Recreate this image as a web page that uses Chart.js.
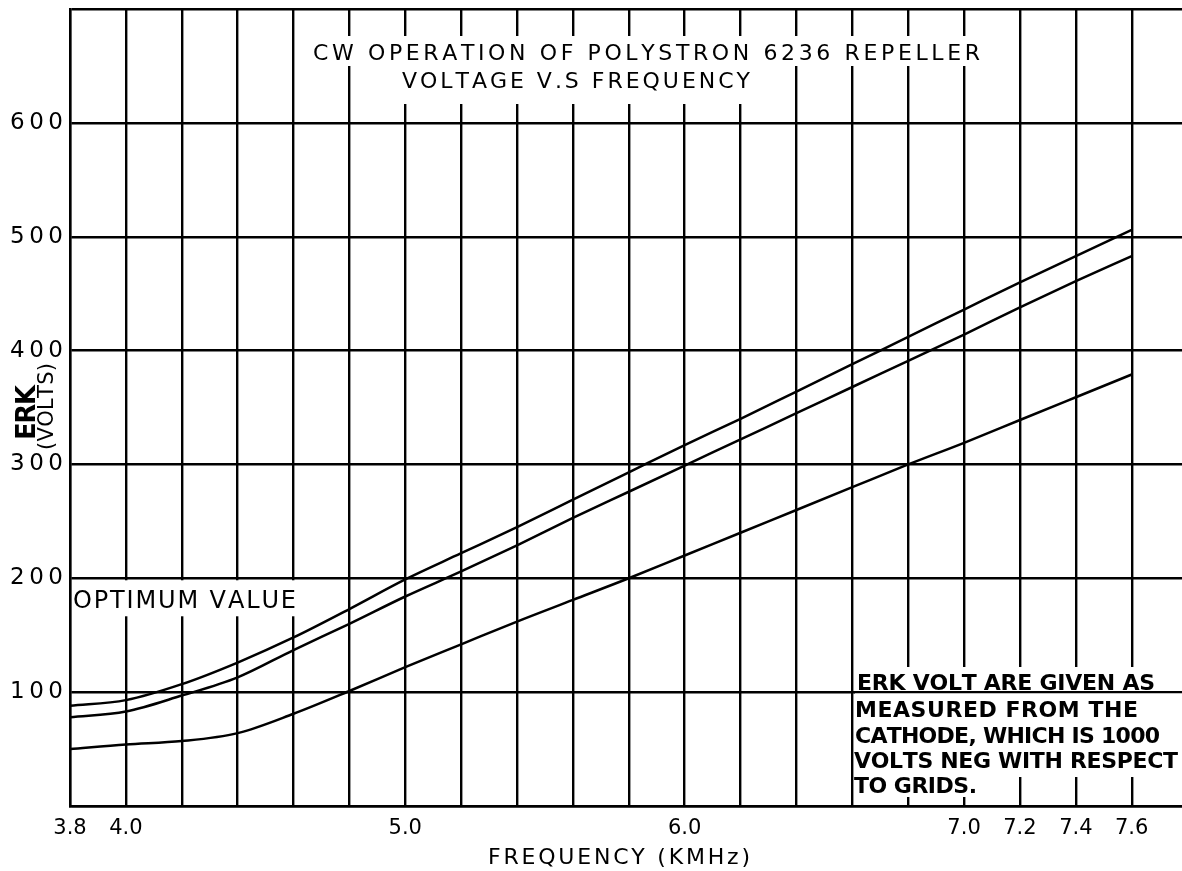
<!DOCTYPE html>
<html>
<head>
<meta charset="utf-8">
<title>CW Operation of Polystron 6236 Repeller</title>
<script src="https://cdn.jsdelivr.net/npm/chart.js@4.4.0/dist/chart.umd.min.js"></script>
<style>
    html, body { margin: 0; padding: 0; background: #fff; }
    canvas { display: block; }
</style>
</head>
<body>
<canvas id="repeller-chart" width="1182" height="871"></canvas>
<script>
const freqs = [3.8, 4.0, 4.2, 4.4, 4.6, 4.8, 5.0, 5.2, 5.4, 5.6, 5.8, 6.0, 6.2, 6.4, 6.6, 6.8, 7.0, 7.2, 7.4, 7.6];
const upperErk = [88, 93, 107, 126, 148, 173, 199, 222, 245, 269, 293, 317, 340, 364, 388, 412, 436, 460, 483, 506];
const middleErk = [78, 83, 97, 113, 137, 160, 184, 206, 229, 253, 276, 299, 322, 345, 368, 391, 414, 438, 461, 483];
const lowerErk = [50, 54, 57, 64, 81, 101, 122, 142, 162, 181, 200, 220, 240, 260, 280, 300, 319, 339, 359, 379];

const xLabelValues = [3.8, 4.0, 5.0, 6.0, 7.0, 7.2, 7.4, 7.6];
const yGridValues = [0, 100, 200, 300, 400, 500, 600, 700];
const yLabelValues = [100, 200, 300, 400, 500, 600];

Chart.defaults.font.family = '"DejaVu Sans", sans-serif';
Chart.defaults.color = '#000';

// spread the letters of a line over a given width, like the hand lettering
function spaced(ctx, text, x, y, width) {
    const chars = [...text];
    const widths = chars.map(c => ctx.measureText(c).width);
    const total = widths.reduce((a, b) => a + b, 0);
    const gap = chars.length > 1 ? (width - total) / (chars.length - 1) : 0;
    let cx = x;
    chars.forEach((c, i) => {
        ctx.fillText(c, cx, y);
        cx += widths[i] + gap;
    });
}

function series(values) {
    return freqs.map((f, i) => ({ x: f, y: values[i] }));
}

const lettering = {
    id: 'lettering',
    afterDraw(chart) {
        const ctx = chart.ctx;
        const area = chart.chartArea;
        const yScale = chart.scales.y;
        const y100 = yScale.getPixelForValue(100);
        const y200 = yScale.getPixelForValue(200);

        ctx.save();
        // the grid lines stop where the lettering is
        ctx.fillStyle = '#fff';
        ctx.fillRect(300, 36, 690, 30);
        ctx.fillRect(395, 66, 365, 38);
        ctx.fillRect(area.left + 2, y200 + 2, 228, 36);
        ctx.fillRect(855, 667, area.right - 855, 110);
        ctx.fillRect(855, 776, 130, 21);

        // 100 V line still runs under the first line of the note
        ctx.strokeStyle = '#000';
        ctx.lineWidth = 2.4;
        ctx.beginPath();
        ctx.moveTo(854, y100);
        ctx.lineTo(area.right, y100);
        ctx.stroke();

        ctx.fillStyle = '#000';
        ctx.textAlign = 'left';
        ctx.textBaseline = 'alphabetic';

        ctx.font = '22px "DejaVu Sans"';
        spaced(ctx, 'CW OPERATION OF POLYSTRON 6236 REPELLER', 313, 60, 667);
        spaced(ctx, 'VOLTAGE V.S FREQUENCY', 402, 88, 348);

        ctx.font = '24px "DejaVu Sans"';
        spaced(ctx, 'OPTIMUM VALUE', 73, 608, 223);

        ctx.font = 'bold 22px "DejaVu Sans"';
        spaced(ctx, 'ERK VOLT ARE GIVEN AS', 857, 690, 298);
        spaced(ctx, 'MEASURED FROM THE', 855, 717, 283);
        spaced(ctx, 'CATHODE, WHICH IS 1000', 855, 743, 305);
        spaced(ctx, 'VOLTS NEG WITH RESPECT', 854, 768, 324);
        spaced(ctx, 'TO GRIDS.', 854, 793, 123);

        // axis titles
        ctx.font = '22px "DejaVu Sans"';
        spaced(ctx, 'FREQUENCY (KMHz)', 488, 864, 262);

        ctx.save();
        ctx.translate(35, 440);
        ctx.rotate(-Math.PI / 2);
        ctx.font = 'bold 26px "DejaVu Sans"';
        spaced(ctx, 'ERK', 0, 0, 55);
        ctx.restore();

        ctx.save();
        ctx.translate(53, 450);
        ctx.rotate(-Math.PI / 2);
        ctx.font = '21px "DejaVu Sans"';
        spaced(ctx, '(VOLTS)', 0, 0, 87);
        ctx.restore();

        ctx.restore();
    }
};

const lineStyle = {
    borderColor: '#000',
    borderWidth: 2.5,
    pointRadius: 0,
    fill: false,
    cubicInterpolationMode: 'monotone'
};

new Chart(document.getElementById('repeller-chart').getContext('2d'), {
    type: 'line',
    data: {
        datasets: [
            Object.assign({ label: 'upper', data: series(upperErk) }, lineStyle),
            Object.assign({ label: 'middle', data: series(middleErk) }, lineStyle),
            Object.assign({ label: 'lower', data: series(lowerErk) }, lineStyle)
        ]
    },
    options: {
        responsive: false,
        animation: false,
        devicePixelRatio: 1,
        layout: { padding: { top: 9, right: 0, bottom: 0, left: 0 } },
        plugins: {
            legend: { display: false },
            tooltip: { enabled: false }
        },
        scales: {
            x: {
                type: 'linear',
                min: 3.8,
                max: 7.78,
                afterBuildTicks: scale => {
                    scale.ticks = freqs.map(v => ({ value: v }));
                },
                afterFit: scale => {
                    scale.height = 65;
                    scale.paddingLeft = 0;
                    scale.paddingRight = 0;
                },
                ticks: {
                    autoSkip: false,
                    maxRotation: 0,
                    padding: 10,
                    font: { size: 21 },
                    callback: v => xLabelValues.some(l => Math.abs(l - v) < 1e-6) ? v.toFixed(1) : ''
                },
                grid: { color: '#000', lineWidth: 2.4, drawTicks: false },
                border: { color: '#000', width: 2.4 }
            },
            y: {
                type: 'linear',
                min: 0,
                max: 700,
                afterBuildTicks: scale => {
                    scale.ticks = yGridValues.map(v => ({ value: v }));
                },
                afterFit: scale => {
                    scale.width = 70;
                    scale.paddingTop = 0;
                    scale.paddingBottom = 0;
                },
                ticks: {
                    autoSkip: false,
                    padding: 7,
                    font: { size: 23 },
                    callback: v => yLabelValues.includes(v) ? String(v).split('').join('\u2009') : ''
                },
                grid: { color: '#000', lineWidth: 2.4, drawTicks: false },
                border: { color: '#000', width: 2.4 }
            }
        }
    },
    plugins: [lettering]
});
</script>
</body>
</html>
